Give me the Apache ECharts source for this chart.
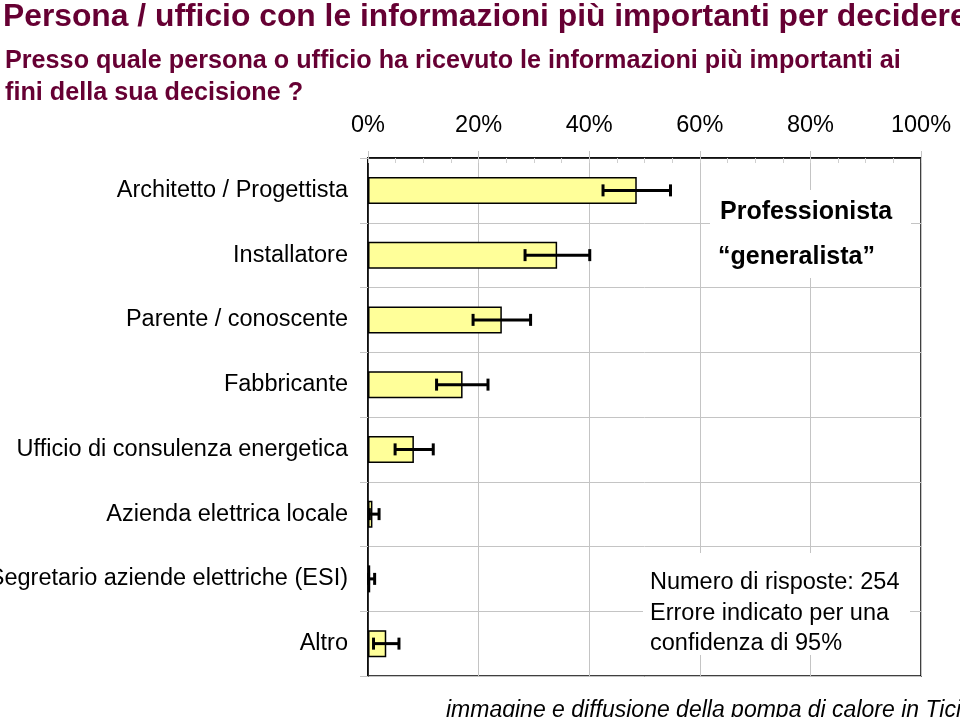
<!DOCTYPE html>
<html>
<head>
<meta charset="utf-8">
<script src="https://cdn.jsdelivr.net/npm/echarts@6/dist/echarts.min.js"></script>
<style>
html,body{margin:0;padding:0;background:#fff;}
#chart{width:960px;height:717px;}
</style>
</head>
<body>
<div id="chart"></div>
<script>
const categories = ['Architetto / Progettista','Installatore','Parente / conoscente','Fabbricante','Ufficio di consulenza energetica','Azienda elettrica locale','Segretario aziende elettriche (ESI)','Altro'];
const values = [48.6, 34.2, 24.2, 17.1, 8.3, 0.8, 0.4, 3.3];
const errLow = [42.5, 28.4, 19.0, 12.4, 4.9, 0.25, 0.1, 1.0];
const errHigh = [54.7, 40.1, 29.4, 21.7, 11.8, 2.0, 1.2, 5.6];
const xTicks = [0, 20, 40, 60, 80, 100];

const FONT = '"Liberation Sans", Arial, sans-serif';
const MAROON = '#660033';
const GRID = '#c4c4c4';

const chart = echarts.init(document.getElementById('chart'), null, {renderer:'canvas'});
const errData = categories.map((c, i) => [i, errLow[i], errHigh[i]]);

chart.setOption({
  animation: false,
  backgroundColor: '#fff',
  grid: {left: 368, top: 158, width: 553, height: 518, containLabel: false, outerBoundsMode: 'none', show: true, borderColor: '#000', borderWidth: 1.5, backgroundColor: 'transparent'},
  xAxis: [{
    type: 'value', position: 'top', min: xTicks[0], max: xTicks[xTicks.length-1], interval: 20,
    axisLine: {show: true, lineStyle: {color: '#000', width: 1.5}},
    axisTick: {show: true, length: 7, lineStyle: {color: GRID}},
    axisLabel: {formatter: '{value}%', fontSize: 23.5, fontFamily: FONT, color: '#000', margin: 20},
    splitLine: {show: true, lineStyle: {color: GRID, width: 1}}
  }, {
    type: 'value', position: 'top', min: 0, max: 100, interval: 5,
    axisLine: {show: false},
    axisTick: {show: true, inside: true, length: 5, lineStyle: {color: '#cfcfcf'}},
    axisLabel: {show: false},
    splitLine: {show: false}
  }],
  yAxis: {
    type: 'category', inverse: true, data: categories,
    axisLine: {show: true, lineStyle: {color: '#000', width: 1.5}},
    axisTick: {show: true, length: 8, lineStyle: {color: GRID}},
    axisLabel: {fontSize: 23.5, fontFamily: FONT, color: '#000', margin: 20},
    splitLine: {show: true, lineStyle: {color: GRID, width: 1}}
  },
  series: [{
    type: 'bar', data: values, barWidth: 27, xAxisIndex: 0,
    itemStyle: {color: '#FFFF99', borderColor: '#000', borderWidth: 1.5},
    z: 2
  }, {
    type: 'custom', data: errData, xAxisIndex: 0,
    encode: {x: [1, 2], y: 0},
    z: 3,
    renderItem: function (params, api) {
      const idx = api.value(0);
      const lo = api.coord([api.value(1), idx]);
      const hi = api.coord([api.value(2), idx]);
      const h = 6;
      const st = {stroke: '#000', lineWidth: 3};
      return {type: 'group', children: [
        {type: 'line', shape: {x1: lo[0], y1: lo[1], x2: hi[0], y2: hi[1]}, style: st},
        {type: 'line', shape: {x1: lo[0], y1: lo[1]-h, x2: lo[0], y2: lo[1]+h}, style: st},
        {type: 'line', shape: {x1: hi[0], y1: hi[1]-h, x2: hi[0], y2: hi[1]+h}, style: st}
      ]};
    }
  }],
  graphic: [
    {type: 'text', x: 3, y: 17, z: 100, style: {text: 'Persona / ufficio con le informazioni più importanti per decidere', font: 'bold 31.8px ' + FONT, fill: MAROON, verticalAlign: 'middle'}},
    {type: 'text', x: 5, y: 61.5, z: 100, style: {text: 'Presso quale persona o ufficio ha ricevuto le informazioni più importanti ai', font: 'bold 25.2px ' + FONT, fill: MAROON, verticalAlign: 'middle'}},
    {type: 'text', x: 5, y: 93.5, z: 100, style: {text: 'fini della sua decisione ?', font: 'bold 25.2px ' + FONT, fill: MAROON, verticalAlign: 'middle'}},
    {type: 'rect', z: 100, shape: {x: 710, y: 190, width: 201, height: 88}, style: {fill: '#fff'}},
    {type: 'text', x: 720, y: 212, z: 101, style: {text: 'Professionista', font: 'bold 25px ' + FONT, fill: '#000', verticalAlign: 'middle'}},
    {type: 'text', x: 718, y: 257.5, z: 101, style: {text: '\u201cgeneralista\u201d', font: 'bold 25px ' + FONT, fill: '#000', verticalAlign: 'middle'}},
    {type: 'rect', z: 100, shape: {x: 643, y: 553, width: 267, height: 102}, style: {fill: '#fff'}},
    {type: 'text', x: 650, y: 583, z: 101, style: {text: 'Numero di risposte: 254', font: '23.5px ' + FONT, fill: '#000', verticalAlign: 'middle'}},
    {type: 'text', x: 650, y: 613.5, z: 101, style: {text: 'Errore indicato per una', font: '23.5px ' + FONT, fill: '#000', verticalAlign: 'middle'}},
    {type: 'text', x: 650, y: 643.5, z: 101, style: {text: 'confidenza di 95%', font: '23.5px ' + FONT, fill: '#000', verticalAlign: 'middle'}},
    {type: 'text', x: 446, y: 711, z: 101, style: {text: 'immagine e diffusione della pompa di calore in Ticino', font: 'italic 23px ' + FONT, fill: '#000', verticalAlign: 'middle'}}
  ]
});
</script>
</body>
</html>
